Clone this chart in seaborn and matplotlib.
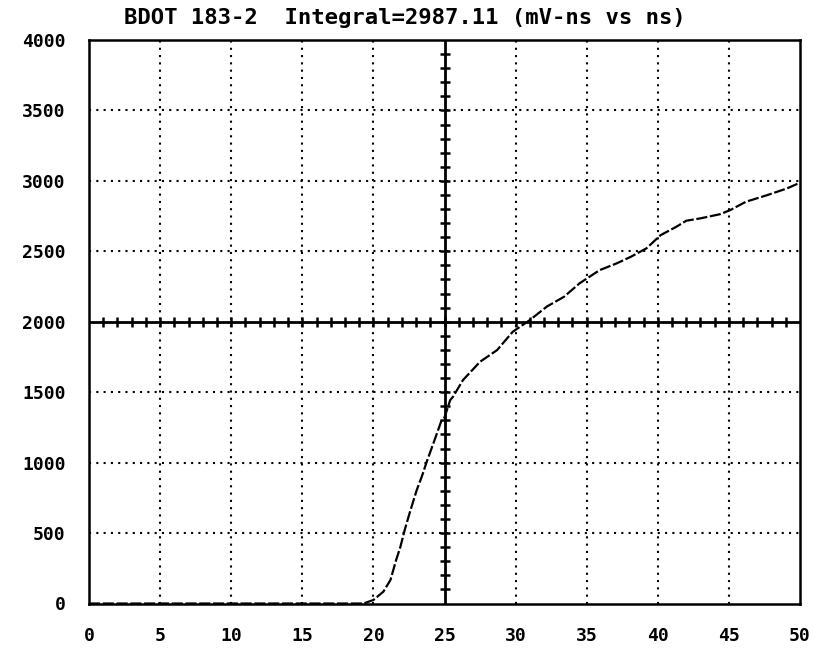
import numpy as np
import pandas as pd
import matplotlib
matplotlib.use("Agg")
import matplotlib.pyplot as plt
import seaborn as sns

# ---- data ----
time_ns = [0, 5, 10, 15, 19.0, 19.3, 20.0, 20.7, 21.2, 21.6, 21.9, 22.2, 22.6, 23.05,
           23.4, 23.75, 24.3, 24.8, 25.0, 25.4, 25.6, 26.3, 27.5, 28.7, 29.8, 31.0,
           32.2, 33.4, 34.5, 35.9, 37.1, 38.1, 39.2, 40.2, 41.3, 42.0, 43.0, 44.4,
           45.1, 46.2, 47.7, 49.1, 50.0]
integral = [0, 0, 0, 0, 0, 0, 25, 84, 167, 309, 403, 522, 660, 806,
            900, 1006, 1160, 1302, 1320, 1444, 1468, 1586, 1716, 1799, 1929, 2012,
            2108, 2177, 2273, 2366, 2414, 2461, 2521, 2615, 2674, 2717, 2734, 2764,
            2793, 2852, 2899, 2947, 2987]
x_ticks = [0, 5, 10, 15, 20, 25, 30, 35, 40, 45, 50]
y_ticks = [0, 500, 1000, 1500, 2000, 2500, 3000, 3500, 4000]
title = "BDOT 183-2  Integral=2987.11 (mV-ns vs ns)"

df = pd.DataFrame({"t": time_ns, "v": integral})

sns.set_theme(style="white")
plt.rcParams["font.family"] = ["DejaVu Sans Mono", "DejaVu Sans"]
plt.rcParams["font.weight"] = "bold"

fig = plt.figure(figsize=(8.15, 6.49), dpi=100)
ax = fig.add_axes([89 / 815, 1 - 603.5 / 649, 711 / 815, 563.5 / 649])

# dotted grid
for gx in x_ticks[1:-1]:
    if gx != 25:
        ax.axvline(gx, color="black", lw=1.5, ls=(0, (1, 2.5)), zorder=1)
for gy in y_ticks[1:-1]:
    if gy != 2000:
        ax.axhline(gy, color="black", lw=1.5, ls=(0, (1, 2.5)), zorder=1)

# central crosshair with minor tick marks
ax.axvline(25, color="black", lw=2, zorder=2)
ax.axhline(2000, color="black", lw=2, zorder=2)
hx = np.arange(1, 50, 1)
ax.plot(hx, np.full(hx.shape, 2000), ls="none", marker="|", ms=7, mew=1.8,
        color="black", zorder=2)
vy = np.arange(100, 4000, 100)
ax.plot(np.full(vy.shape, 25), vy, ls="none", marker="_", ms=7, mew=1.8,
        color="black", zorder=2)

# curve
sns.lineplot(data=df, x="t", y="v", ax=ax, color="black", lw=1.6,
             linestyle=(0, (5, 1.2)), zorder=3)

ax.set_xlim(0, 50)
ax.set_ylim(0, 4000)
ax.set_xticks(x_ticks)
ax.set_yticks(y_ticks)
ax.set_xticklabels([str(v) for v in x_ticks])
ax.set_yticklabels([str(v) for v in y_ticks])
ax.tick_params(axis="both", length=0, labelsize=13, colors="black")
ax.tick_params(axis="x", pad=17)
ax.tick_params(axis="y", pad=17)
ax.set_xlabel("")
ax.set_ylabel("")
ax.grid(False)
for sp in ax.spines.values():
    sp.set_color("black")
    sp.set_linewidth(1.8)
    sp.set_visible(True)

fig.text(404.5 / 815, 1 - 18 / 649, title, ha="center", va="center",
         fontsize=16, color="black")

fig.savefig("out.png", dpi=100, facecolor="white")
